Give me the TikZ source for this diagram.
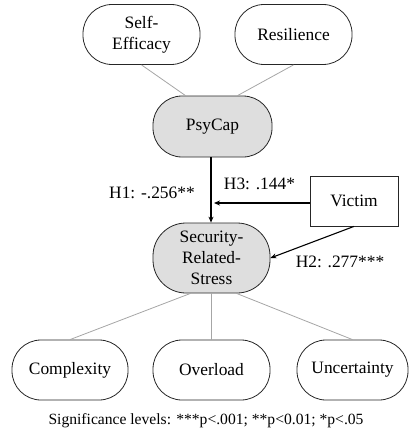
\documentclass[tikz,border=0pt]{standalone}
\usepackage{fontspec}
\setmainfont{Liberation Serif}
\usetikzlibrary{arrows.meta,calc}
\begin{document}
\begin{tikzpicture}[x=1pt,y=-1pt,
  pill/.style={draw=black!85,line width=0.8pt,rounded corners=29pt,minimum width=117pt,minimum height=60pt,align=center,inner sep=0pt,font=\fontsize{17.4}{21}\selectfont},
  latent/.style={pill,fill=black!13},
  boxn/.style={draw=black!85,line width=0.8pt,minimum width=88pt,minimum height=50pt,inner sep=0pt,font=\fontsize{17.4}{21}\selectfont},
  load/.style={draw=black!35,line width=0.8pt},
  path/.style={draw=black,line width=1.1pt,-{Stealth[length=6pt,width=5pt]}},
  lab/.style={font=\fontsize{17.4}{21}\selectfont,inner sep=0pt}]
\useasboundingbox (0,0) rectangle (409,436);
\node[pill] (se) at (141.5,34.5) {Self-\\Efficacy};
\node[pill] (res) at (293.5,34.5) {Resilience};
\node[latent,minimum width=119pt,minimum height=61pt] (psy) at (212.5,126.5) {PsyCap};
\node[latent,minimum height=70pt,rounded corners=33pt] (srs) at (211.5,258) {Security-\\Related-\\Stress};
\node[boxn] (vic) at (354,201) {Victim};
\node[pill,minimum width=116pt] (cpx) at (70,370) {Complexity};
\node[pill] (ovl) at (211.5,370) {Overload};
\node[pill,minimum width=111pt] (unc) at (352.5,370) {Uncertainty};
\draw[load] (se.south) -- ([xshift=-27pt]psy.north);
\draw[load] (res.south) -- ([xshift=25pt]psy.north);
\draw[load] ([xshift=-21pt]srs.south) -- (cpx.north);
\draw[load] (srs.south) -- (ovl.north);
\draw[load] ([xshift=25pt]srs.south) -- (unc.north);
\draw[path] ([xshift=-1.5pt]psy.south) -- ([xshift=-0.5pt]srs.north);
\coordinate (h3end) at ($(vic.west -| psy.south)+(1.5pt,-2pt)$);
\draw[path] ([yshift=-2pt]vic.west) -- (h3end);
\draw[path] (vic.south) -- (srs.east);
\node[lab] (h1) at (152,193) {H1: -.256**};
\node[lab] (h3) at (259.5,184) {H3: .144*};
\node[lab] (h2) at (340,262) {H2: .277***};
\node[font=\fontsize{15.6}{18}\selectfont,inner sep=0pt] (cap) at (206,421) {Significance levels: ***p<.001; **p<0.01; *p<.05};
\end{tikzpicture}
\end{document}
